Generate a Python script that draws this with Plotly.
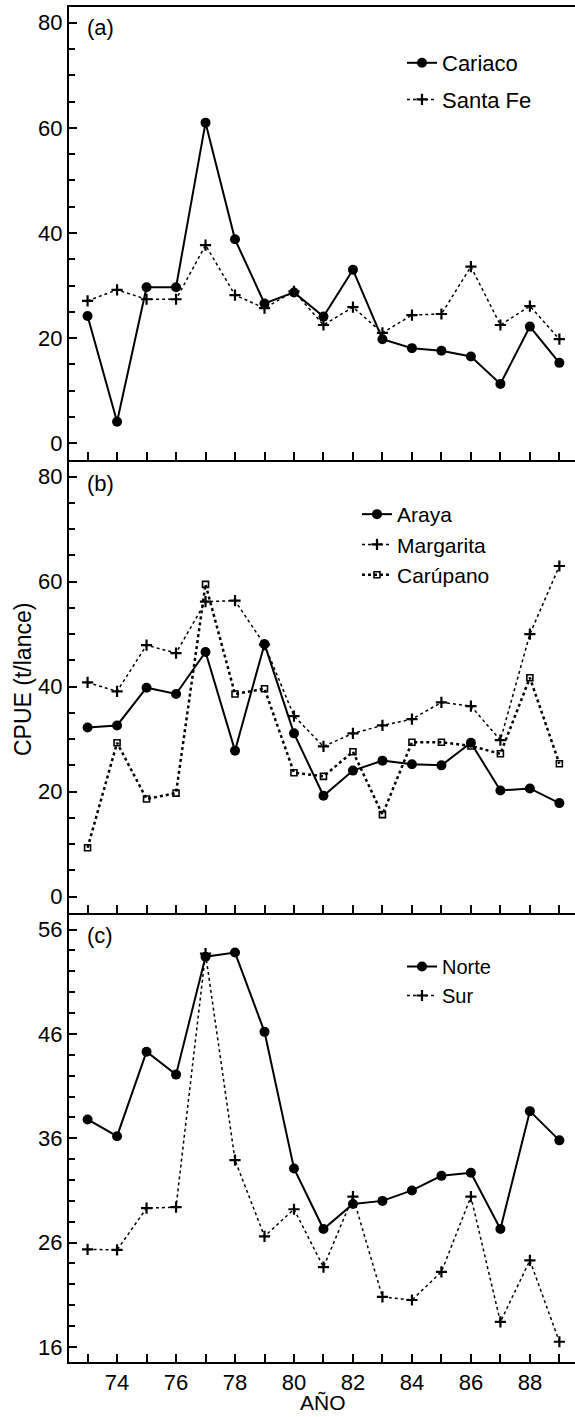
import plotly.graph_objects as go

years = list(range(73, 90))

cariaco = [24.2, 4.1, 29.7, 29.7, 61.0, 38.8, 26.6, 28.7, 24.1, 33.0, 19.8, 18.1, 17.6, 16.5, 11.3, 22.2, 15.3]
santa_fe = [27.1, 29.2, 27.4, 27.4, 37.7, 28.2, 25.7, 28.9, 22.5, 25.9, 21.0, 24.4, 24.6, 33.6, 22.5, 26.1, 19.8]

araya = [32.2, 32.6, 39.8, 38.6, 46.6, 27.8, 48.1, 31.1, 19.2, 24.0, 25.9, 25.2, 25.0, 29.3, 20.2, 20.6, 17.8]
margarita = [40.8, 39.1, 47.9, 46.4, 56.2, 56.4, 48.0, 34.4, 28.6, 31.1, 32.6, 33.8, 37.0, 36.3, 29.8, 50.0, 63.0]
carupano = [9.3, 29.3, 18.6, 19.7, 59.5, 38.6, 39.6, 23.6, 22.9, 27.6, 15.6, 29.4, 29.4, 28.7, 27.2, 41.7, 25.3]

norte = [37.8, 36.2, 44.3, 42.1, 53.4, 53.8, 46.2, 33.1, 27.3, 29.7, 30.0, 31.0, 32.4, 32.7, 27.3, 38.6, 35.8]
sur = [25.35, 25.3, 29.3, 29.4, 53.7, 33.9, 26.6, 29.2, 23.65, 30.4, 20.8, 20.5, 23.2, 30.4, 18.4, 24.3, 16.5]

x_tickvals = years
x_ticktext = [str(y) if y % 2 == 0 else "" for y in years]

W, H = 575, 1417
ML, MR, MT, MB = 69, 0, 7, 55
PW = W - ML - MR
PH = H - MT - MB


def px_x(p):
    return (p - ML) / PW


def px_y(p):
    return (H - MB - p) / PH


FONT = "Liberation Sans, Arial, sans-serif"
BLACK = "black"

fig = go.Figure()

circle = dict(symbol="circle", size=10, color=BLACK)
cross = dict(symbol="cross-thin", size=8, color=BLACK, line=dict(width=2.2, color=BLACK))
square = dict(symbol="square-open", size=6, color=BLACK, line=dict(width=1.6, color=BLACK))

# Panel (a)
fig.add_trace(go.Scatter(x=years, y=cariaco, name="Cariaco", mode="lines+markers",
                         line=dict(color=BLACK, width=2), marker=circle,
                         xaxis="x", yaxis="y", legend="legend", legendgroup="a1"))
fig.add_trace(go.Scatter(x=years, y=santa_fe, name="Santa Fe", mode="lines+markers",
                         line=dict(color=BLACK, width=1.5, dash="dot"), marker=cross,
                         xaxis="x", yaxis="y", legend="legend", legendgroup="a2"))
# Panel (b)
fig.add_trace(go.Scatter(x=years, y=araya, name="Araya", mode="lines+markers",
                         line=dict(color=BLACK, width=2), marker=circle,
                         xaxis="x2", yaxis="y2", legend="legend2"))
fig.add_trace(go.Scatter(x=years, y=margarita, name="Margarita", mode="lines+markers",
                         line=dict(color=BLACK, width=1.5, dash="dot"), marker=cross,
                         xaxis="x2", yaxis="y2", legend="legend2"))
fig.add_trace(go.Scatter(x=years, y=carupano, name="Carúpano", mode="lines+markers",
                         line=dict(color=BLACK, width=2.5, dash="dot"), marker=square,
                         xaxis="x2", yaxis="y2", legend="legend2"))
# Panel (c)
fig.add_trace(go.Scatter(x=years, y=norte, name="Norte", mode="lines+markers",
                         line=dict(color=BLACK, width=2), marker=circle,
                         xaxis="x3", yaxis="y3", legend="legend3"))
fig.add_trace(go.Scatter(x=years, y=sur, name="Sur", mode="lines+markers",
                         line=dict(color=BLACK, width=1.5, dash="dot"), marker=cross,
                         xaxis="x3", yaxis="y3", legend="legend3"))

dom_c = [0, px_y(913.3)]
dom_b = [px_y(913.3), px_y(460)]
dom_a = [px_y(460), 1]

xr = [72.37, 89.53]
tickfont = dict(family=FONT, size=22, color=BLACK)


def xaxis(anchor, labels, mirror=False):
    return dict(anchor=anchor, domain=[0, 1], range=xr, tickmode="array",
                tickvals=x_tickvals, ticktext=x_ticktext, showticklabels=labels,
                ticks="inside", ticklen=8, tickwidth=1.5, tickcolor=BLACK,
                showline=True, linewidth=2, linecolor=BLACK, mirror=mirror,
                showgrid=False, zeroline=False, tickfont=tickfont)


def yaxis(anchor, dom, rng, tick0, dtick, mdtick):
    return dict(anchor=anchor, domain=dom, range=rng, tick0=tick0, dtick=dtick,
                ticks="inside", ticklen=8, tickwidth=1.5, tickcolor=BLACK,
                minor=dict(tick0=tick0, dtick=mdtick, ticks="inside", ticklen=6,
                           tickwidth=1.5, tickcolor=BLACK, showgrid=False),
                showline=True, linewidth=2, linecolor=BLACK, showgrid=False,
                zeroline=False, tickfont=tickfont)


fig.update_layout(
    width=W, height=H,
    margin=dict(l=ML, r=MR, t=MT, b=MB, pad=0),
    paper_bgcolor="white", plot_bgcolor="white",
    showlegend=True,
    xaxis=xaxis("y", False, mirror=True),
    xaxis2=xaxis("y2", False),
    xaxis3=xaxis("y3", True),
    yaxis=yaxis("x", dom_a, [-3.18, 83.0], 0, 20, 5),
    yaxis2=yaxis("x2", dom_b, [-3.2, 83.2], 0, 20, 5),
    yaxis3=yaxis("x3", dom_c, [14.56, 57.56], 16, 10, 2),
    legend=dict(x=px_x(402), y=px_y(42), xanchor="left", yanchor="top",
                bgcolor="rgba(0,0,0,0)", font=dict(family=FONT, size=22, color=BLACK),
                itemwidth=30, tracegroupgap=5),
    legend2=dict(x=px_x(357), y=px_y(494), xanchor="left", yanchor="top",
                 bgcolor="rgba(0,0,0,0)", font=dict(family=FONT, size=21, color=BLACK),
                 itemwidth=30),
    legend3=dict(x=px_x(402), y=px_y(947), xanchor="left", yanchor="top",
                 bgcolor="rgba(0,0,0,0)", font=dict(family=FONT, size=20, color=BLACK),
                 itemwidth=30),
    font=dict(family=FONT, color=BLACK),
)

ann_font = dict(family=FONT, size=22, color=BLACK)
for label, yc in [("(a)", 27), ("(b)", 483), ("(c)", 935)]:
    fig.add_annotation(text=label, xref="paper", yref="paper", x=px_x(85), y=px_y(yc),
                       xanchor="left", yanchor="middle", showarrow=False, font=ann_font)

fig.add_annotation(text="CPUE (t/lance)", xref="paper", yref="paper", x=px_x(23), y=px_y(680),
                   xanchor="center", yanchor="middle", textangle=-90, showarrow=False,
                   font=dict(family=FONT, size=23, color=BLACK))
fig.add_annotation(text="AÑO", xref="paper", yref="paper", x=px_x(323), y=px_y(1402),
                   xanchor="center", yanchor="middle", showarrow=False,
                   font=dict(family=FONT, size=21, color=BLACK))

fig.write_html("out.html")
